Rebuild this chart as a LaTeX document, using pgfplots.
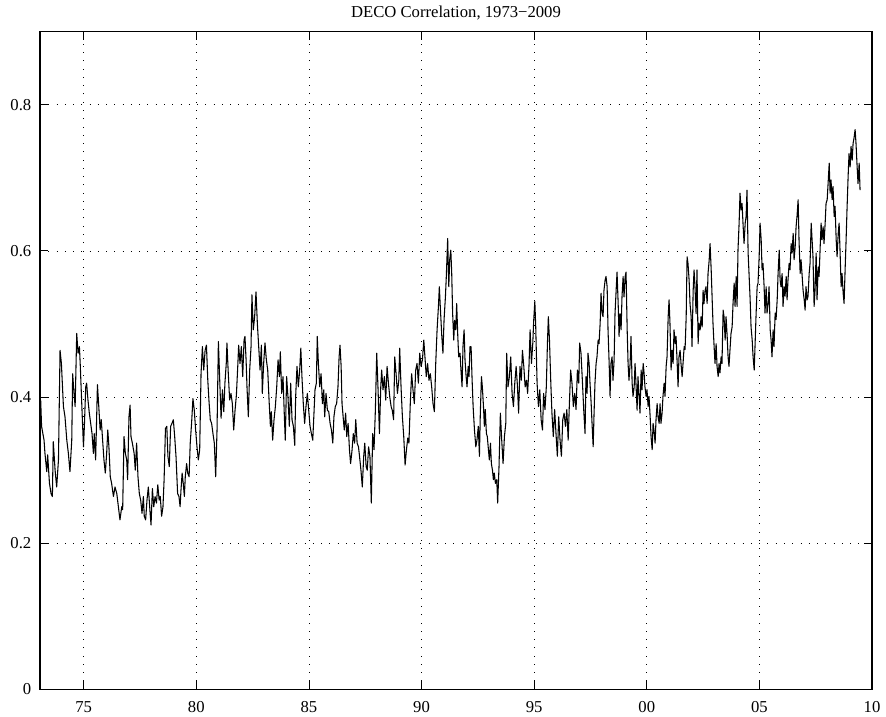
\documentclass[border=0pt]{standalone}
\usepackage{fontspec}
\setmainfont{Liberation Serif}
\usepackage{pgfplots}
\pgfplotsset{compat=1.18}
\begin{document}
\begin{tikzpicture}
\begin{axis}[
  scale only axis,
  width=624pt, height=493.4pt,
  xmin=1973.06, xmax=2010,
  ymin=0, ymax=0.9,
  xtick={1975,1980,1985,1990,1995,2000,2005,2010},
  xticklabels={75,80,85,90,95,00,05,10},
  ytick={0,0.2,0.4,0.6,0.8},
  yticklabels={0,0.2,0.4,0.6,0.8},
  tick align=inside,
  xtick pos=both, ytick pos=both,
  major tick length=6pt,
  grid=major,
  grid style={black, line width=0.5pt, dash pattern=on 0.6pt off 5.6pt},
  axis line style={black, line width=0.8pt},
  tick style={black, line width=0.6pt},
  tick label style={font=\fontsize{12.5}{14}\selectfont},
  xticklabel style={yshift=-5.5pt},
  yticklabel style={xshift=-3pt},
  title={DECO Correlation, 1973−2009},
  title style={font=\fontsize{12.5}{14}\selectfont, yshift=-1pt},
]
% DECO correlation
\addplot[black, line width=0.8pt, line join=round, mark=none] coordinates {
(1973.09,0.396) (1973.13,0.360) (1973.24,0.341) (1973.28,0.323) (1973.36,0.298)
(1973.40,0.321) (1973.48,0.282) (1973.55,0.268) (1973.61,0.264) (1973.65,0.339)
(1973.73,0.300) (1973.80,0.277) (1973.88,0.314) (1973.95,0.464) (1974.01,0.446)
(1974.10,0.387) (1974.17,0.373) (1974.25,0.341) (1974.32,0.323) (1974.39,0.298)
(1974.47,0.341) (1974.51,0.432) (1974.57,0.405) (1974.62,0.387) (1974.69,0.487)
(1974.75,0.460) (1974.81,0.469) (1974.85,0.442) (1974.93,0.378) (1974.99,0.332)
(1975.03,0.360) (1975.09,0.414) (1975.13,0.419) (1975.19,0.396) (1975.25,0.378)
(1975.31,0.364) (1975.37,0.350) (1975.43,0.323) (1975.47,0.350) (1975.53,0.314)
(1975.61,0.417) (1975.67,0.387) (1975.73,0.355) (1975.78,0.369) (1975.84,0.341)
(1975.90,0.314) (1975.96,0.296) (1976.02,0.323) (1976.07,0.355) (1976.12,0.332)
(1976.18,0.291) (1976.24,0.282) (1976.32,0.264) (1976.39,0.277) (1976.47,0.268)
(1976.54,0.250) (1976.61,0.232) (1976.69,0.250) (1976.73,0.246) (1976.79,0.346)
(1976.85,0.323) (1976.91,0.314) (1976.95,0.287) (1977.01,0.373) (1977.06,0.389)
(1977.10,0.346) (1977.16,0.337) (1977.24,0.323) (1977.29,0.300) (1977.35,0.337)
(1977.41,0.291) (1977.47,0.268) (1977.53,0.259) (1977.59,0.241) (1977.65,0.264)
(1977.69,0.237) (1977.75,0.232) (1977.81,0.259) (1977.87,0.277) (1977.95,0.241)
(1977.99,0.225) (1978.05,0.275) (1978.11,0.250) (1978.17,0.264) (1978.23,0.255)
(1978.29,0.280) (1978.35,0.259) (1978.40,0.264) (1978.46,0.237) (1978.52,0.250)
(1978.57,0.287) (1978.63,0.357) (1978.69,0.360) (1978.74,0.319) (1978.80,0.305)
(1978.86,0.360) (1978.92,0.364) (1978.98,0.369) (1979.04,0.346)
(1979.10,0.318) (1979.17,0.268) (1979.23,0.264) (1979.28,0.250) (1979.32,0.273)
(1979.37,0.296) (1979.42,0.282) (1979.47,0.264) (1979.51,0.291) (1979.57,0.309)
(1979.62,0.296) (1979.68,0.291) (1979.73,0.337) (1979.79,0.364) (1979.85,0.398)
(1979.91,0.382) (1979.97,0.355) (1980.03,0.332) (1980.09,0.314) (1980.15,0.328)
(1980.21,0.432) (1980.27,0.469) (1980.33,0.437) (1980.39,0.464) (1980.45,0.471)
(1980.51,0.423) (1980.56,0.396) (1980.62,0.369) (1980.68,0.364) (1980.74,0.350)
(1980.80,0.337) (1980.86,0.291) (1980.92,0.355) (1980.98,0.476) (1981.04,0.423)
(1981.10,0.371) (1981.16,0.410) (1981.22,0.380) (1981.27,0.419) (1981.33,0.446)
(1981.36,0.474) (1981.42,0.432) (1981.48,0.396) (1981.54,0.405) (1981.60,0.391)
(1981.66,0.355) (1981.72,0.382) (1981.78,0.403) (1981.84,0.442) (1981.88,0.471)
(1981.94,0.446) (1982.00,0.469) (1982.06,0.428) (1982.12,0.478) (1982.16,0.483)
(1982.21,0.451) (1982.25,0.414) (1982.31,0.373) (1982.37,0.437) (1982.43,0.469)
(1982.47,0.540) (1982.53,0.492) (1982.59,0.510) (1982.65,0.544) (1982.71,0.501)
(1982.77,0.469) (1982.83,0.437) (1982.89,0.471) (1982.93,0.405) (1982.99,0.446)
(1983.05,0.474) (1983.11,0.451) (1983.17,0.437) (1983.23,0.396) (1983.29,0.360)
(1983.33,0.380) (1983.39,0.341) (1983.45,0.369) (1983.51,0.387) (1983.57,0.414)
(1983.63,0.451) (1983.69,0.428) (1983.73,0.462) (1983.79,0.405) (1983.85,0.428)
(1983.91,0.373) (1983.95,0.341) (1984.01,0.428) (1984.07,0.400) (1984.13,0.360)
(1984.19,0.419) (1984.25,0.369) (1984.31,0.360) (1984.37,0.334) (1984.41,0.400)
(1984.47,0.442) (1984.53,0.414) (1984.59,0.437) (1984.64,0.467) (1984.69,0.428)
(1984.75,0.391) (1984.81,0.364) (1984.87,0.387) (1984.93,0.405) (1984.99,0.382)
(1985.05,0.360) (1985.11,0.350) (1985.17,0.341) (1985.23,0.382) (1985.27,0.410)
(1985.33,0.419) (1985.37,0.483) (1985.42,0.446) (1985.48,0.414) (1985.54,0.432)
(1985.60,0.391) (1985.66,0.410) (1985.70,0.373) (1985.76,0.405) (1985.82,0.382)
(1985.88,0.380) (1985.94,0.364) (1986.00,0.355) (1986.06,0.337) (1986.11,0.373)
(1986.17,0.387) (1986.23,0.391) (1986.29,0.414) (1986.34,0.455) (1986.38,0.471)
(1986.43,0.442) (1986.47,0.391) (1986.53,0.369) (1986.57,0.355) (1986.63,0.378)
(1986.68,0.346) (1986.74,0.364) (1986.80,0.328) (1986.85,0.309) (1986.91,0.326)
(1986.97,0.350) (1987.03,0.337) (1987.08,0.369) (1987.14,0.337) (1987.20,0.332)
(1987.25,0.318) (1987.31,0.300) (1987.37,0.277) (1987.43,0.318) (1987.48,0.337)
(1987.54,0.305) (1987.59,0.300) (1987.65,0.332) (1987.71,0.318) (1987.77,0.255)
(1987.83,0.350) (1987.89,0.328) (1987.95,0.382) (1988.01,0.460) (1988.07,0.410)
(1988.13,0.350) (1988.19,0.414) (1988.23,0.437) (1988.29,0.410) (1988.35,0.428)
(1988.41,0.396) (1988.47,0.442) (1988.53,0.419) (1988.59,0.400) (1988.65,0.387)
(1988.70,0.382) (1988.76,0.369) (1988.81,0.455) (1988.87,0.432) (1988.93,0.405)
(1988.99,0.423) (1989.03,0.467) (1989.09,0.414) (1989.15,0.373) (1989.21,0.346)
(1989.27,0.307) (1989.33,0.328) (1989.39,0.344) (1989.44,0.337) (1989.50,0.391)
(1989.56,0.432) (1989.62,0.410) (1989.68,0.391) (1989.74,0.437) (1989.80,0.446)
(1989.86,0.419) (1989.92,0.460) (1989.98,0.442) (1990.04,0.451) (1990.10,0.478)
(1990.16,0.451) (1990.21,0.428) (1990.27,0.446) (1990.33,0.423) (1990.39,0.432)
(1990.45,0.414) (1990.51,0.391) (1990.57,0.380) (1990.63,0.446) (1990.69,0.492)
(1990.75,0.524) (1990.79,0.551) (1990.84,0.519) (1990.90,0.483) (1990.95,0.460)
(1991.00,0.506) (1991.06,0.537) (1991.10,0.565)
(1991.16,0.617) (1991.21,0.551) (1991.25,0.588) (1991.30,0.601) (1991.34,0.569)
(1991.38,0.515) (1991.43,0.478) (1991.47,0.505) (1991.52,0.492) (1991.56,0.528)
(1991.61,0.483) (1991.65,0.455) (1991.71,0.460) (1991.75,0.437) (1991.80,0.414)
(1991.84,0.469) (1991.89,0.492) (1991.93,0.451) (1991.98,0.428) (1992.02,0.414)
(1992.07,0.442) (1992.11,0.428) (1992.15,0.469) (1992.20,0.469) (1992.24,0.428)
(1992.29,0.387) (1992.35,0.355) (1992.41,0.332) (1992.46,0.341) (1992.52,0.360)
(1992.57,0.319) (1992.61,0.378) (1992.66,0.428) (1992.70,0.414) (1992.75,0.387)
(1992.79,0.360) (1992.83,0.383) (1992.88,0.350) (1992.92,0.346) (1992.97,0.328)
(1993.01,0.314) (1993.06,0.337) (1993.10,0.309) (1993.15,0.300) (1993.19,0.287)
(1993.23,0.296) (1993.28,0.282) (1993.34,0.287) (1993.38,0.255) (1993.44,0.305)
(1993.50,0.378) (1993.56,0.341) (1993.62,0.309) (1993.68,0.346) (1993.74,0.364)
(1993.78,0.460) (1993.84,0.414) (1993.90,0.428) (1993.96,0.455) (1994.02,0.405)
(1994.08,0.387) (1994.14,0.419) (1994.20,0.442) (1994.26,0.414) (1994.31,0.378)
(1994.37,0.442) (1994.43,0.423) (1994.48,0.464) (1994.54,0.442) (1994.60,0.414)
(1994.66,0.423) (1994.71,0.405) (1994.77,0.442) (1994.82,0.492) (1994.88,0.446)
(1994.94,0.474) (1994.98,0.505) (1995.03,0.531) (1995.07,0.496) (1995.13,0.419)
(1995.19,0.387) (1995.25,0.410) (1995.31,0.369) (1995.37,0.355) (1995.42,0.405)
(1995.48,0.383) (1995.54,0.414) (1995.59,0.474) (1995.63,0.510) (1995.68,0.478)
(1995.74,0.419) (1995.79,0.378) (1995.85,0.346) (1995.91,0.383) (1995.97,0.350)
(1996.03,0.319) (1996.09,0.373) (1996.15,0.341) (1996.21,0.319) (1996.27,0.369)
(1996.33,0.378) (1996.39,0.360) (1996.45,0.383) (1996.51,0.341) (1996.56,0.387)
(1996.62,0.437) (1996.68,0.419) (1996.74,0.387) (1996.80,0.405) (1996.86,0.383)
(1996.92,0.437) (1996.98,0.419) (1997.02,0.474) (1997.08,0.460) (1997.14,0.423)
(1997.20,0.383) (1997.26,0.350)
(1997.30,0.428) (1997.35,0.405) (1997.39,0.460) (1997.44,0.446) (1997.48,0.419)
(1997.53,0.392) (1997.57,0.364) (1997.62,0.332) (1997.66,0.378) (1997.70,0.419)
(1997.75,0.446) (1997.79,0.455) (1997.84,0.478) (1997.88,0.473) (1997.93,0.501)
(1997.97,0.542) (1998.02,0.514) (1998.06,0.510) (1998.10,0.546) (1998.15,0.560)
(1998.19,0.565) (1998.24,0.551) (1998.28,0.492) (1998.33,0.446) (1998.37,0.401)
(1998.41,0.446) (1998.46,0.455) (1998.50,0.423) (1998.55,0.451) (1998.59,0.514)
(1998.64,0.546) (1998.68,0.571) (1998.73,0.528) (1998.77,0.483) (1998.81,0.514)
(1998.86,0.492) (1998.90,0.537) (1998.95,0.565) (1998.99,0.537) (1999.04,0.565)
(1999.08,0.571) (1999.13,0.492) (1999.17,0.446) (1999.21,0.423) (1999.26,0.446)
(1999.30,0.483) (1999.35,0.419) (1999.39,0.401) (1999.44,0.414) (1999.48,0.446)
(1999.52,0.419) (1999.57,0.382) (1999.61,0.428) (1999.66,0.401) (1999.70,0.378)
(1999.75,0.437) (1999.79,0.410) (1999.84,0.446) (1999.88,0.433) (1999.92,0.414)
(1999.97,0.401) (2000.01,0.410) (2000.06,0.387) (2000.10,0.401) (2000.15,0.373)
(2000.19,0.346) (2000.24,0.328) (2000.28,0.364) (2000.32,0.355) (2000.37,0.337)
(2000.41,0.369) (2000.46,0.391) (2000.50,0.373) (2000.55,0.364) (2000.59,0.391)
(2000.63,0.364) (2000.68,0.378) (2000.72,0.401) (2000.77,0.419) (2000.81,0.401)
(2000.86,0.442) (2000.90,0.455) (2000.95,0.510) (2000.99,0.533) (2001.03,0.501)
(2001.08,0.437) (2001.12,0.464) (2001.17,0.446) (2001.21,0.492) (2001.26,0.473)
(2001.30,0.483) (2001.35,0.446) (2001.39,0.414) (2001.43,0.455) (2001.48,0.464)
(2001.52,0.446) (2001.57,0.428) (2001.61,0.446) (2001.66,0.469) (2001.70,0.465)
(2001.75,0.510) (2001.79,0.592) (2001.83,0.583) (2001.88,0.560) (2001.92,0.528)
(2001.97,0.510) (2002.01,0.469) (2002.06,0.546) (2002.10,0.574) (2002.14,0.551)
(2002.19,0.514) (2002.23,0.574) (2002.28,0.473) (2002.32,0.501) (2002.37,0.492)
(2002.41,0.510) (2002.46,0.496) (2002.50,0.546) (2002.54,0.528) (2002.59,0.546)
(2002.63,0.551) (2002.68,0.528) (2002.72,0.569) (2002.77,0.587) (2002.81,0.610)
(2002.86,0.574) (2002.90,0.537) (2002.94,0.501) (2002.99,0.469) (2003.03,0.446)
(2003.08,0.473) (2003.12,0.442) (2003.17,0.428) (2003.21,0.446) (2003.25,0.433)
(2003.30,0.455) (2003.34,0.446) (2003.39,0.519) (2003.43,0.510) (2003.48,0.478)
(2003.52,0.510) (2003.57,0.483) (2003.61,0.455) (2003.65,0.442)
(2003.74,0.487) (2003.79,0.496) (2003.83,0.528) (2003.88,0.556) (2003.92,0.524)
(2003.97,0.565) (2004.01,0.524) (2004.05,0.601) (2004.10,0.638) (2004.14,0.679)
(2004.19,0.656) (2004.23,0.665) (2004.28,0.633) (2004.32,0.610) (2004.37,0.638)
(2004.41,0.647) (2004.45,0.683) (2004.50,0.597) (2004.54,0.569) (2004.59,0.533)
(2004.63,0.496) (2004.68,0.478) (2004.72,0.455) (2004.77,0.437) (2004.81,0.473)
(2004.85,0.510) (2004.90,0.551) (2004.94,0.556) (2004.99,0.592) (2005.03,0.638)
(2005.08,0.615) (2005.12,0.574) (2005.16,0.583) (2005.21,0.551) (2005.25,0.515)
(2005.30,0.551) (2005.34,0.515) (2005.39,0.528) (2005.43,0.551) (2005.48,0.492)
(2005.52,0.478) (2005.56,0.455) (2005.61,0.492) (2005.65,0.469) (2005.70,0.515)
(2005.74,0.506) (2005.79,0.533) (2005.83,0.569) (2005.88,0.601) (2005.92,0.560)
(2005.96,0.551) (2006.01,0.569) (2006.05,0.524) (2006.10,0.551) (2006.14,0.538)
(2006.19,0.565) (2006.23,0.533) (2006.27,0.560) (2006.32,0.583) (2006.36,0.574)
(2006.41,0.610) (2006.45,0.597) (2006.50,0.624) (2006.54,0.588) (2006.59,0.606)
(2006.63,0.633) (2006.67,0.647) (2006.72,0.670) (2006.76,0.615) (2006.81,0.569)
(2006.85,0.588) (2006.90,0.565) (2006.94,0.546) (2006.99,0.533) (2007.03,0.519)
(2007.07,0.551) (2007.12,0.533) (2007.16,0.538) (2007.21,0.569) (2007.25,0.583)
(2007.30,0.638) (2007.34,0.615) (2007.38,0.592) (2007.43,0.524) (2007.47,0.546)
(2007.52,0.597) (2007.56,0.533) (2007.61,0.578) (2007.65,0.565) (2007.70,0.606)
(2007.74,0.638) (2007.78,0.615) (2007.83,0.633) (2007.87,0.610) (2007.92,0.638)
(2007.96,0.665) (2008.01,0.670) (2008.05,0.692) (2008.10,0.720) (2008.14,0.679)
(2008.18,0.697) (2008.23,0.670) (2008.27,0.688) (2008.32,0.647) (2008.36,0.661)
(2008.41,0.615) (2008.45,0.592) (2008.50,0.624) (2008.54,0.638) (2008.58,0.601)
(2008.63,0.551) (2008.67,0.569) (2008.72,0.542) (2008.76,0.528) (2008.81,0.578)
(2008.85,0.615) (2008.89,0.656) (2008.94,0.702) (2008.98,0.733) (2009.03,0.715)
(2009.07,0.743) (2009.12,0.724) (2009.16,0.747) (2009.21,0.756) (2009.25,0.766)
(2009.29,0.747) (2009.34,0.715) (2009.38,0.692) (2009.43,0.720) (2009.47,0.683)
};
\end{axis}
\pgfresetboundingbox
\path[use as bounding box] (-30pt,-20.6pt) rectangle (634.5pt,517.1pt);
\end{tikzpicture}
\end{document}
